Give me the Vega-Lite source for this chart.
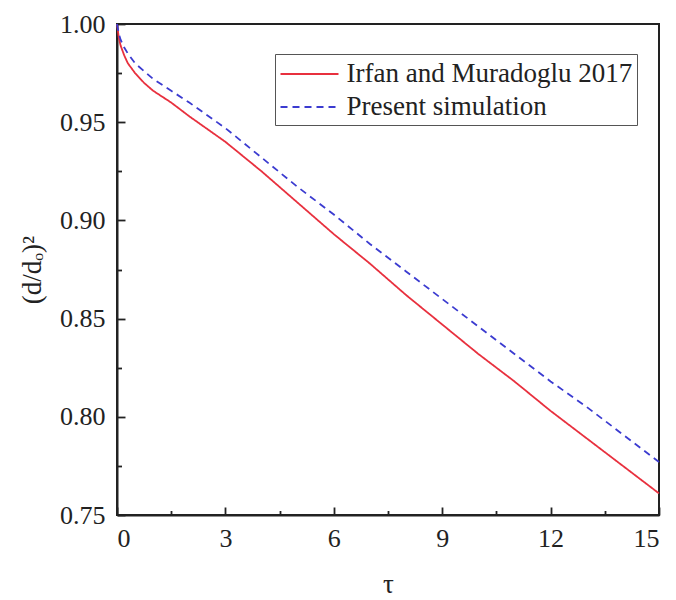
{
  "$schema": "https://vega.github.io/schema/vega-lite/v6.json",
  "autosize": {"type": "none"},
  "padding": {"left": 117, "top": 24, "right": 17, "bottom": 85},
  "width": 542,
  "height": 491,
  "background": "white",
  "config": {
    "font": "Liberation Serif",
    "view": {"stroke": "#222", "strokeWidth": 2},
    "axis": {"grid": false, "domainColor": "#222", "domainWidth": 2, "tickColor": "#222", "tickWidth": 1.8, "labelColor": "#222", "titleColor": "#222", "labelFont": "Liberation Serif", "titleFont": "Liberation Serif", "labelFontSize": 26, "titleFontSize": 27, "titleFontWeight": "normal"}
  },
  "datasets": {
    "curves": [
      {"tau": 0, "d2": 1.0, "series": "Irfan and Muradoglu 2017"},
      {"tau": 0.05, "d2": 0.993, "series": "Irfan and Muradoglu 2017"},
      {"tau": 0.1, "d2": 0.989, "series": "Irfan and Muradoglu 2017"},
      {"tau": 0.2, "d2": 0.984, "series": "Irfan and Muradoglu 2017"},
      {"tau": 0.3, "d2": 0.98, "series": "Irfan and Muradoglu 2017"},
      {"tau": 0.5, "d2": 0.975, "series": "Irfan and Muradoglu 2017"},
      {"tau": 0.75, "d2": 0.97, "series": "Irfan and Muradoglu 2017"},
      {"tau": 1, "d2": 0.966, "series": "Irfan and Muradoglu 2017"},
      {"tau": 1.5, "d2": 0.96, "series": "Irfan and Muradoglu 2017"},
      {"tau": 2, "d2": 0.953, "series": "Irfan and Muradoglu 2017"},
      {"tau": 3, "d2": 0.94, "series": "Irfan and Muradoglu 2017"},
      {"tau": 4, "d2": 0.925, "series": "Irfan and Muradoglu 2017"},
      {"tau": 5, "d2": 0.909, "series": "Irfan and Muradoglu 2017"},
      {"tau": 6, "d2": 0.893, "series": "Irfan and Muradoglu 2017"},
      {"tau": 7, "d2": 0.878, "series": "Irfan and Muradoglu 2017"},
      {"tau": 8, "d2": 0.862, "series": "Irfan and Muradoglu 2017"},
      {"tau": 9, "d2": 0.847, "series": "Irfan and Muradoglu 2017"},
      {"tau": 10, "d2": 0.832, "series": "Irfan and Muradoglu 2017"},
      {"tau": 11, "d2": 0.818, "series": "Irfan and Muradoglu 2017"},
      {"tau": 12, "d2": 0.803, "series": "Irfan and Muradoglu 2017"},
      {"tau": 13, "d2": 0.789, "series": "Irfan and Muradoglu 2017"},
      {"tau": 14, "d2": 0.775, "series": "Irfan and Muradoglu 2017"},
      {"tau": 15, "d2": 0.761, "series": "Irfan and Muradoglu 2017"},
      {"tau": 0, "d2": 1.0, "series": "Present simulation"},
      {"tau": 0.05, "d2": 0.995, "series": "Present simulation"},
      {"tau": 0.1, "d2": 0.992, "series": "Present simulation"},
      {"tau": 0.2, "d2": 0.988, "series": "Present simulation"},
      {"tau": 0.3, "d2": 0.985, "series": "Present simulation"},
      {"tau": 0.5, "d2": 0.98, "series": "Present simulation"},
      {"tau": 0.75, "d2": 0.976, "series": "Present simulation"},
      {"tau": 1, "d2": 0.972, "series": "Present simulation"},
      {"tau": 1.5, "d2": 0.966, "series": "Present simulation"},
      {"tau": 2, "d2": 0.96, "series": "Present simulation"},
      {"tau": 3, "d2": 0.947, "series": "Present simulation"},
      {"tau": 4, "d2": 0.932, "series": "Present simulation"},
      {"tau": 5, "d2": 0.917, "series": "Present simulation"},
      {"tau": 6, "d2": 0.903, "series": "Present simulation"},
      {"tau": 7, "d2": 0.888, "series": "Present simulation"},
      {"tau": 8, "d2": 0.874, "series": "Present simulation"},
      {"tau": 9, "d2": 0.86, "series": "Present simulation"},
      {"tau": 10, "d2": 0.846, "series": "Present simulation"},
      {"tau": 11, "d2": 0.832, "series": "Present simulation"},
      {"tau": 12, "d2": 0.818, "series": "Present simulation"},
      {"tau": 13, "d2": 0.805, "series": "Present simulation"},
      {"tau": 14, "d2": 0.791, "series": "Present simulation"},
      {"tau": 15, "d2": 0.777, "series": "Present simulation"}
    ]
  },
  "data": {"name": "curves"},
  "resolve": {"axis": {"x": "independent", "y": "independent"}},
  "layer": [
    {
      "mark": {"type": "line", "strokeWidth": 1.8},
      "encoding": {
        "x": {"field": "tau", "type": "quantitative", "scale": {"domain": [0, 15], "nice": false},
          "axis": {"title": "τ", "values": [0, 3, 6, 9, 12, 15], "tickSize": -8, "labelPadding": 18, "titlePadding": 20}},
        "y": {"field": "d2", "type": "quantitative", "scale": {"domain": [0.75, 1.0], "nice": false, "zero": false},
          "axis": {"title": "(d/dₒ)²", "values": [0.75, 0.8, 0.85, 0.9, 0.95, 1.0], "format": ".2f", "tickSize": -8, "labelPadding": 20, "titlePadding": 13}},
        "color": {"field": "series", "type": "nominal",
          "scale": {"domain": ["Irfan and Muradoglu 2017", "Present simulation"], "range": ["#e8303e", "#3b3bd0"]},
          "legend": {"title": null, "orient": "none", "legendX": 158, "legendY": 30, "strokeColor": "#555", "padding": 4.5, "labelFont": "Liberation Serif", "labelFontSize": 27, "labelColor": "#222", "labelLimit": 0, "symbolType": "M-1,0H3", "symbolSize": 841, "symbolStrokeWidth": 2, "rowPadding": 4, "labelOffset": 36}},
        "strokeDash": {"field": "series", "type": "nominal",
          "scale": {"domain": ["Irfan and Muradoglu 2017", "Present simulation"], "range": [[1, 0], [7, 5]]},
          "legend": null}
      }
    },
    {
      "mark": {"type": "point", "opacity": 0},
      "encoding": {
        "x": {"field": "tau", "type": "quantitative", "scale": {"domain": [0, 15], "nice": false},
          "axis": {"orient": "bottom", "title": null, "values": [1.5, 4.5, 7.5, 10.5, 13.5], "labels": false, "domain": false, "tickSize": -4.5}},
        "y": {"field": "d2", "type": "quantitative", "scale": {"domain": [0.75, 1.0], "nice": false, "zero": false},
          "axis": {"orient": "left", "title": null, "values": [0.775, 0.825, 0.875, 0.925, 0.975], "labels": false, "domain": false, "tickSize": -4.5}}
      }
    }
  ]
}
